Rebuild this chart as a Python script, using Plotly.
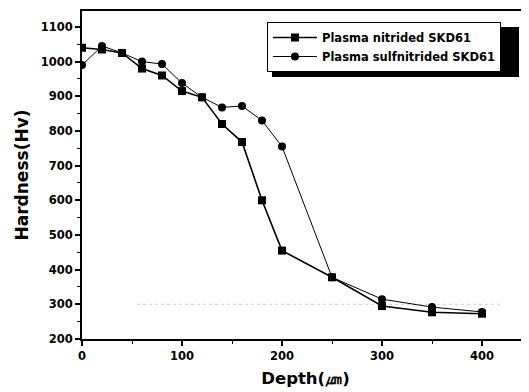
import plotly.graph_objects as go

depth = [0, 20, 40, 60, 80, 100, 120, 140, 160, 180, 200, 250, 300, 350, 400]
nitrided = [1040, 1035, 1025, 980, 960, 915, 897, 820, 768, 600, 455, 378, 295, 277, 273]
sulfnitrided = [990, 1045, 1025, 1000, 993, 938, 897, 868, 872, 830, 755, 378, 315, 292, 278]

OFF = 8  # page body margin
W, H = 529 - OFF, 392 - OFF
L, R, T, B = 82 - OFF, 0, 11 - OFF, 53
pw, ph = W - L - R, H - T - B

def px(x):  # reference-pixel x -> paper
    return (x - OFF - L) / pw

def py(y):  # reference-pixel y -> paper
    return (H - B - (y - OFF)) / ph

FONT = "DejaVu Sans, Liberation Sans, Arial, sans-serif"

fig = go.Figure()
fig.add_trace(go.Scatter(
    x=depth, y=nitrided, mode="lines+markers", name="Plasma nitrided SKD61",
    line=dict(color="black", width=1.6),
    marker=dict(symbol="square", size=8, color="black"),
))
fig.add_trace(go.Scatter(
    x=depth, y=sulfnitrided, mode="lines+markers", name="Plasma sulfnitrided SKD61",
    line=dict(color="black", width=1.0),
    marker=dict(symbol="circle", size=8, color="black"),
))

# faint dotted line at 300 (scan remnant)
fig.add_shape(type="line", xref="x", yref="y", x0=55, x1=420, y0=300, y1=300,
              line=dict(color="#d0d0d0", width=1, dash="dot"), layer="below")
# legend shadow
fig.add_shape(type="rect", xref="paper", yref="paper",
              x0=px(272), x1=px(519), y0=py(77), y1=py(27),
              fillcolor="black", line=dict(width=0), layer="above")

fig.update_layout(
    width=W, height=H,
    margin=dict(l=L, r=R, t=T, b=B),
    paper_bgcolor="white", plot_bgcolor="white",
    font=dict(family=FONT, color="black", size=11),
    showlegend=True,
    legend=dict(
        x=px(267), y=py(22), xanchor="left", yanchor="top",
        bgcolor="white", bordercolor="black", borderwidth=1,
        font=dict(size=11.5, family=FONT, weight="bold"),
        itemwidth=44, tracegroupgap=0,
    ),
    xaxis=dict(
        range=[0, 447], showgrid=False, zeroline=False, automargin=False,
        showline=True, linecolor="black", linewidth=2, mirror=True,
        ticks="outside", ticklen=5, tickwidth=1.5, tickcolor="black",
        tickvals=[0, 100, 200, 300, 400],
        minor=dict(ticks="outside", ticklen=3, tickwidth=1, tickcolor="black", dtick=50, tick0=0),
        tickfont=dict(size=11.5, weight="bold"),
        title=dict(text="Depth(㎛)", font=dict(size=16.5, weight="bold"), standoff=11),
    ),
    yaxis=dict(
        range=[200, 1146], showgrid=False, zeroline=False, automargin=False,
        showline=True, linecolor="black", linewidth=2, mirror=False,
        ticks="outside", ticklen=5, tickwidth=1.5, tickcolor="black",
        tickvals=[200, 300, 400, 500, 600, 700, 800, 900, 1000, 1100],
        minor=dict(ticks="outside", ticklen=3, tickwidth=1, tickcolor="black", dtick=50, tick0=0),
        tickfont=dict(size=11.5, weight="bold"),
        title=dict(text="Hardness(Hv)", font=dict(size=17, weight="bold"), standoff=8),
    ),
)

fig.write_html("out.html")
